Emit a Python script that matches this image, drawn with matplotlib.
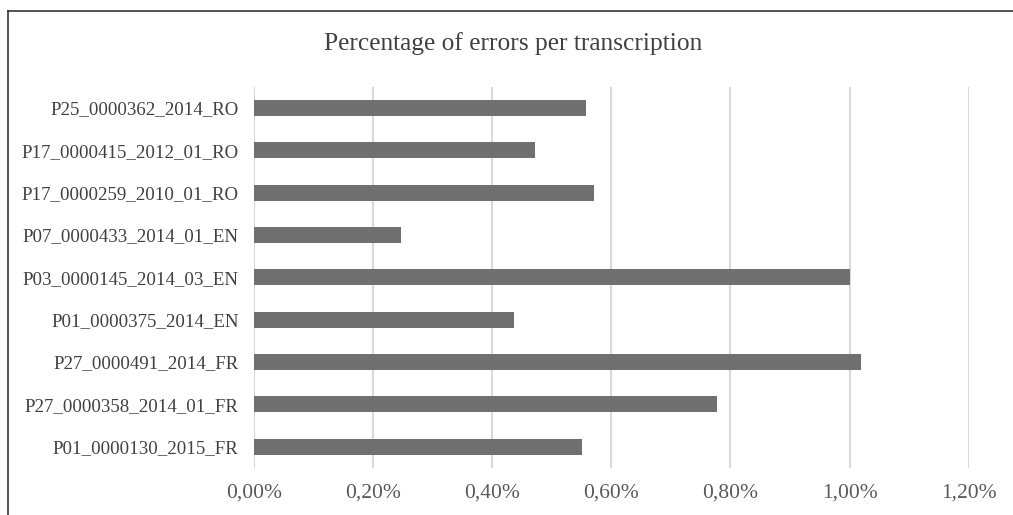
import matplotlib
matplotlib.use("Agg")
import matplotlib.pyplot as plt
from matplotlib.lines import Line2D
from matplotlib.ticker import FuncFormatter

categories = [
    "P01_0000130_2015_FR",
    "P27_0000358_2014_01_FR",
    "P27_0000491_2014_FR",
    "P01_0000375_2014_EN",
    "P03_0000145_2014_03_EN",
    "P07_0000433_2014_01_EN",
    "P17_0000259_2010_01_RO",
    "P17_0000415_2012_01_RO",
    "P25_0000362_2014_RO",
]
values = [0.551, 0.777, 1.019, 0.437, 1.000, 0.247, 0.571, 0.472, 0.558]  # percent
xticks = [0.0, 0.2, 0.4, 0.6, 0.8, 1.0, 1.2]

plt.rcParams['font.family'] = ['Liberation Serif', 'DejaVu Serif']

fig = plt.figure(figsize=(10.13, 5.15), dpi=100)
ax = fig.add_axes([0.2507, 0.0913, 0.9563 - 0.2507, 0.8317 - 0.0913])

ypos = list(range(len(categories)))
ax.barh(ypos, values, height=0.38, color='#707070', zorder=3)
ax.set_xlim(0, 1.2)
ax.set_ylim(-0.5, len(categories) - 0.5)
ax.set_yticks(ypos)
ax.set_yticklabels(categories)
ax.set_xticks(xticks)
ax.xaxis.set_major_formatter(FuncFormatter(lambda v, p: f"{v:.2f}%".replace('.', ',')))
ax.grid(axis='x', color='#d9d9d9', linewidth=1.5, zorder=0)
ax.grid(axis='y', visible=False)
for s in ax.spines.values():
    s.set_visible(False)
ax.tick_params(axis='both', length=0, colors='#595959')
ax.tick_params(axis='y', pad=11, labelsize=13.6, labelcolor='#404040')
ax.tick_params(axis='x', pad=11, labelsize=15.5)

fig.text(0.507, 0.915, "Percentage of errors per transcription", ha='center', va='center',
         fontsize=18.3, color='#404040')

# frame (cropped at right and bottom)
fig.add_artist(Line2D([8/1013, 1.0], [1 - 10.7/515, 1 - 10.7/515], color='#333333', lw=1.2))
fig.add_artist(Line2D([8/1013, 8/1013], [0.0, 1 - 10.7/515], color='#333333', lw=1.2))

fig.savefig("out.png", dpi=100)
